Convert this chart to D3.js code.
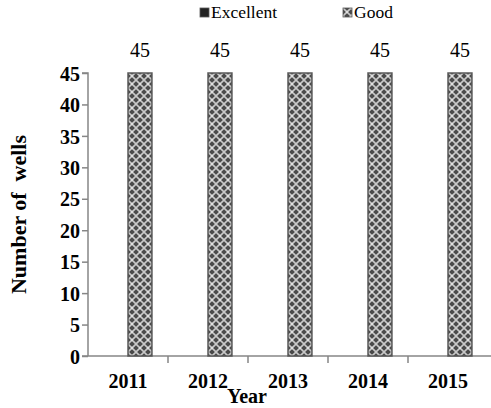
<!DOCTYPE html>
<html lang="en">
<head>
  <meta charset="UTF-8">
  <title>Number of wells by year</title>
  <script src="https://d3js.org/d3.v7.min.js"></script>
  <style>
    body { margin: 0; background: #fff; }
    text { font-family: "Liberation Serif", "Times New Roman", serif; fill: #000; }
    .tick text { font-size: 20px; font-weight: bold; }
    .axis path, .axis line { stroke: #868686; stroke-width: 1.5px; }
  </style>
</head>
<body>
  <svg width="491" height="408"></svg>
  <script>
    const years = ["2011", "2012", "2013", "2014", "2015"];
    const seriesNames = ["Excellent", "Good"];
    const excellent = [0, 0, 0, 0, 0];
    const good = [45, 45, 45, 45, 45];
    const yTicks = [0, 5, 10, 15, 20, 25, 30, 35, 40, 45];

    const svg = d3.select("svg");
    const margin = {left: 88, right: 3, top: 73, bottom: 52};
    const width = 491, height = 408;

    // cross-hatch fill like the original
    const defs = svg.append("defs");
    const pat = defs.append("pattern")
        .attr("id", "hatch")
        .attr("patternUnits", "userSpaceOnUse")
        .attr("width", 8).attr("height", 8);
    pat.append("rect").attr("width", 8).attr("height", 8).attr("fill", "#4a4a4a");
    pat.append("path")
        .attr("d", "M0,0 L8,8 M8,0 L0,8")
        .attr("stroke", "#c8c8c8").attr("stroke-width", 1.6);
    pat.append("circle").attr("cx", 4).attr("cy", 4).attr("r", 1.2).attr("fill", "#e0e0e0");

    const x = d3.scaleBand().domain(years)
        .range([margin.left, width - margin.right]);
    const x1 = d3.scaleBand().domain(seriesNames)
        .range([0, x.bandwidth()]).paddingInner(0).paddingOuter(0.67);
    const y = d3.scaleLinear().domain([0, 45])
        .range([height - margin.bottom, margin.top]);

    // axes
    svg.append("g")
        .attr("class", "axis")
        .attr("transform", `translate(${margin.left},0)`)
        .call(d3.axisLeft(y).tickValues(yTicks).tickSize(6).tickPadding(2))
        .call(g => g.selectAll(".tick text").attr("dy", "0.36em"))
        .call(g => g.select(".domain").attr("d", `M-6,${y(45)}H0V${y(0)}`));

    svg.append("g")
        .attr("class", "axis")
        .attr("transform", `translate(0,${y(0)})`)
        .call(d3.axisBottom(x).tickSize(0).tickPadding(18))
        .call(g => g.select(".domain").attr("d", `M${margin.left - 6},0H${width}`))
        .call(g => g.selectAll(".sep").data(years.slice(1)).enter().append("line")
          .attr("class", "sep")
          .attr("x1", d => x(d)).attr("x2", d => x(d))
          .attr("y1", 0).attr("y2", 7)
          .attr("stroke", "#868686").attr("stroke-width", 1.5));

    // bars
    const data = years.map((yr, i) => ({year: yr, vals: [
      {name: "Excellent", v: excellent[i]},
      {name: "Good", v: good[i]}
    ]}));

    const grp = svg.append("g").selectAll("g")
      .data(data).enter().append("g")
        .attr("transform", d => `translate(${x(d.year)},0)`);

    grp.selectAll("rect")
      .data(d => d.vals.filter(v => v.v > 0))
      .enter().append("rect")
        .attr("x", d => x1(d.name))
        .attr("y", d => y(d.v))
        .attr("width", x1.bandwidth())
        .attr("height", d => y(0) - y(d.v))
        .attr("fill", "url(#hatch)")
        .attr("stroke", "#595959")
        .attr("stroke-width", 1.5);

    grp.selectAll("text.val")
      .data(d => d.vals.filter(v => v.v > 0))
      .enter().append("text")
        .attr("class", "val")
        .attr("x", d => x1(d.name) + x1.bandwidth() / 2)
        .attr("y", 57)
        .attr("text-anchor", "middle")
        .style("font-size", "20px")
        .text(d => d.v);

    // axis titles
    svg.append("text")
        .attr("transform", `translate(26,${(y(0) + y(45)) / 2}) rotate(-90)`)
        .attr("text-anchor", "middle")
        .style("font-size", "22px").style("font-weight", "bold")
        .style("white-space", "pre")
        .text("Number of  wells");

    svg.append("text")
        .attr("x", 247)
        .attr("y", 403)
        .attr("text-anchor", "middle")
        .style("font-size", "20px").style("font-weight", "bold")
        .text("Year");

    // legend
    const legend = svg.append("g");
    const legX = [200, 343];
    seriesNames.forEach((s, i) => {
      const g = legend.append("g").attr("transform", `translate(${legX[i]},8)`);
      g.append("rect").attr("width", 9).attr("height", 9)
        .attr("fill", i === 0 ? "#222" : "url(#hatch)")
        .attr("stroke", "#595959").attr("stroke-width", 0.8);
      g.append("text").attr("x", 11).attr("y", 10)
        .style("font-size", "17.5px").text(s);
    });
  </script>
</body>
</html>
